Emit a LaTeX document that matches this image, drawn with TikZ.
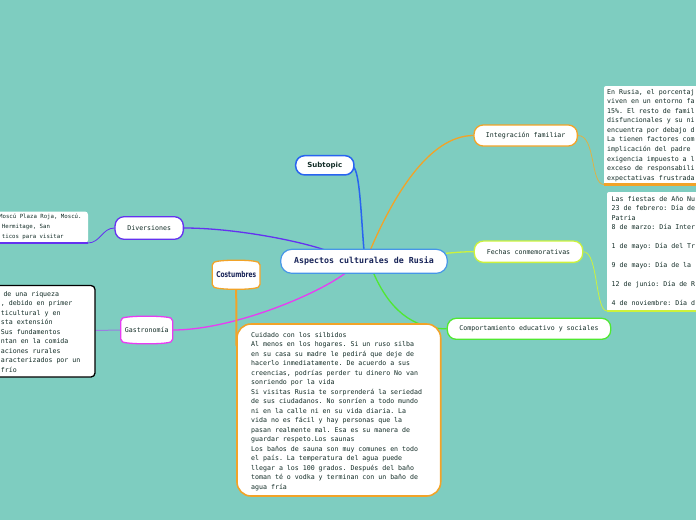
\documentclass[tikz,border=0pt]{standalone}
\usepackage{fontspec}
\usepackage{graphicx}
\setmonofont{DejaVu Sans Mono}
\newfontfamily\dejasans{DejaVu Sans}
\usetikzlibrary{calc}
\definecolor{bgteal}{RGB}{126,205,192}
\definecolor{orangec}{RGB}{242,163,40}
\definecolor{orangethin}{RGB}{222,178,70}
\definecolor{bluesub}{RGB}{40,100,240}
\definecolor{bluecen}{RGB}{70,150,232}
\definecolor{ygreen}{RGB}{205,242,60}
\definecolor{greenc}{RGB}{80,232,50}
\definecolor{purplec}{RGB}{100,50,240}
\definecolor{magentac}{RGB}{232,60,242}
\definecolor{lavender}{RGB}{155,125,225}
\definecolor{txtc}{RGB}{18,44,38}
\definecolor{navy}{RGB}{24,36,88}
\pgfdeclarelayer{back}
\pgfdeclarelayer{conn}
\pgfsetlayers{back,conn,main}
\begin{document}
\begin{tikzpicture}[x=1pt,y=-1pt,
  topic/.style={draw, fill=white, line width=1.3, rounded corners=9, inner sep=0,
    font=\ttfamily\fontsize{6.6}{8}\selectfont, text=txtc},
  bodytxt/.style={anchor=north west, inner sep=0, align=left, text=txtc,
    font=\ttfamily\fontsize{6.6}{9.5}\selectfont},
  conline/.style={line width=1.3},
  thinline/.style={line width=0.8}]
\useasboundingbox (0,0) rectangle (696,520);
\clip (0,0) rectangle (696,520);
\begin{pgfonlayer}{back}
\fill[bgteal] (0,0) rectangle (696,520);
\end{pgfonlayer}

% ---------- detail boxes ----------
% right box 1
\fill[white, rounded corners=2] (604,86) rectangle (704,184.5);
\draw[orangec, line width=3] (604,184.5) -- (704,184.5);
\coordinate (b1) at (604,184.5);
\node[bodytxt, font=\ttfamily\fontsize{6.6}{9.55}\selectfont] (b1txt) at (607,88) {\rule{0pt}{6pt}En Rusia, el porcentaj\\viven en un entorno fa\\15\%. El resto de famil\\disfuncionales y su ni\\encuentra por debajo d\\La tienen factores com\\implicación del padre\\exigencia impuesto a l\\exceso de responsabili\\expectativas frustrada};

% right box 2
\fill[white, rounded corners=2] (607,192) rectangle (704,311);
\draw[ygreen, line width=2.2] (607,311) -- (704,311);
\coordinate (b2) at (607,311);
\node[bodytxt, font=\ttfamily\fontsize{6.6}{9.45}\selectfont] (b2txt) at (611.5,195) {\rule{0pt}{6pt}Las fiestas de Año Nu\\23 de febrero: Día de\\Patria\\8 de marzo: Día Inter\\\mbox{}\\1 de mayo: Día del Tr\\\mbox{}\\9 de mayo: Día de la\\\mbox{}\\12 de junio: Día de R\\\mbox{}\\4 de noviembre: Día d};

% left box 1
\fill[white, rounded corners=3] (-10,211.5) rectangle (88,243);
\draw[purplec, line width=2] (-10,243) -- (88,243);
\coordinate (d1) at (88,243);
\node[bodytxt, font=\ttfamily\fontsize{5.7}{10.2}\selectfont] (d1txt) at (-1,212) {\rule{0pt}{6pt}Moscú Plaza Roja, Moscú.\\\hspace*{2.7pt}Hermitage, San\\\hspace*{2.7pt}ticos para visitar};

% left box 2
\draw[black, line width=1.3, fill=white, rounded corners=4] (-10,285.5) rectangle (95,377);
\coordinate (g1) at (95,330.5);
\node[bodytxt] (g1txt) at (0.7,290) {\rule{0pt}{6pt}\hspace*{2.6pt}de una riqueza\\, debido en primer\\ticultural y en\\sta extensión\\Sus fundamentos\\ntan en la comida\\aciones rurales\\aracterizados por un\\frío};

% big Costumbres box
\draw[orangec, line width=1.6, fill=white, rounded corners=14] (237,324) rectangle (440.7,496);
\coordinate (cb) at (236.5,346);
\node[bodytxt] (cbtxt) at (251,331) {\rule{0pt}{6pt}Cuidado con los silbidos\\Al menos en los hogares. Si un ruso silba\\en su casa su madre le pedirá que deje de\\hacerlo inmediatamente. De acuerdo a sus\\creencias, podrías perder tu dinero No van\\sonriendo por la vida\\Si visitas Rusia te sorprenderá la seriedad\\de sus ciudadanos. No sonríen a todo mundo\\ni en la calle ni en su vida diaria. La\\vida no es fácil y hay personas que la\\pasan realmente mal. Esa es su manera de\\guardar respeto.Los saunas\\Los baños de sauna son muy comunes en todo\\el país. La temperatura del agua puede\\llegar a los 100 grados. Después del baño\\toman té o vodka y terminan con un baño de\\agua fría};

% ---------- cylinder-like nodes ----------
\draw[orangec, line width=1.3, fill=white, rounded corners=2]
  (212.3,263) .. controls (220,259.5) and (252.3,259.5) .. (260,263) -- (260,286.5)
  .. controls (252.3,290) and (220,290) .. (212.3,286.5) -- cycle;
\node[inner sep=0, minimum width=47.7, minimum height=29.3, text=navy,
  font=\dejasans\bfseries\fontsize{8}{9}\selectfont] (cost) at (236.2,274.7) {\scalebox{0.74}[1]{Costumbres}};

\draw[magentac, line width=1.3, fill=white, rounded corners=2]
  (120.7,319) .. controls (128,315.5) and (165.4,315.5) .. (172.7,319) -- (172.7,341)
  .. controls (165.4,344.5) and (128,344.5) .. (120.7,341) -- cycle;
\node[inner sep=0, minimum width=52, minimum height=28, text=txtc,
  font=\ttfamily\fontsize{6.6}{8}\selectfont] (gast) at (146.7,330) {Gastronomía};

% ---------- topic nodes ----------
\node[topic, draw=bluecen, line width=1.2, rounded corners=11, minimum width=166.6, minimum height=24,
  text=navy, font=\ttfamily\bfseries\fontsize{8.3}{10}\selectfont] (c) at (364,261.3) {Aspectos culturales de Rusia};
\node[topic, draw=bluesub, line width=1.5, minimum width=58.3, minimum height=19.3,
  font=\dejasans\bfseries\fontsize{7}{8}\selectfont] (sub) at (324.8,165.3) {Subtopic};
\node[topic, draw=orangec, minimum width=103.3, minimum height=21] (integ) at (525.7,135.5) {Integración familiar};
\node[topic, draw=ygreen, minimum width=108.4, minimum height=21.3] (fech) at (528.5,251.7) {Fechas conmemorativas};
\node[topic, draw=greenc, minimum width=163.4, minimum height=21] (comp) at (529,328.8) {Comportamiento educativo y sociales};
\node[topic, draw=purplec, minimum width=68.3, minimum height=22.6] (div) at (149.2,228) {Diversiones};

% ---------- connectors ----------
\begin{pgfonlayer}{conn}
\draw[bluesub, line width=1.5] ($(sub.east)+(-1,2)$) .. controls ($(sub.east)+(5,8)$) and ($(c.north)+(-3,-35)$) .. ($(c.north)+(0,2)$);
\draw[orangec, conline] ($(c.north)+(6,2)$) .. controls ($(c.north)+(28,-50)$) and ($(integ.west)+(-45,0)$) .. (integ.west);
\draw[orangethin, thinline] (integ.east) .. controls ($(integ.east)+(18,0)$) and ($(b1)+(-14,0)$) .. (b1);
\draw[ygreen, conline] ($(c.east)+(-2,-8)$) .. controls ($(c.east)+(10,-9)$) and ($(fech.west)+(-10,0)$) .. (fech.west);
\draw[ygreen, thinline] (fech.east) .. controls ($(fech.east)+(15,0)$) and ($(b2)+(-12,0)$) .. (b2);
\draw[greenc, conline] ($(c.south)+(9,-2)$) .. controls ($(c.south)+(25,35)$) and ($(comp.west)+(-35,0)$) .. (comp.west);
\draw[purplec, conline] (div.east) .. controls ($(div.east)+(50,0)$) and ($(c.north west)+(20,-8)$) .. ($(c.north west)+(50,3)$);
\draw[purplec, thinline] (d1) .. controls ($(d1)+(12,0)$) and ($(div.west)+(-12,0)$) .. (div.west);
\draw[magentac, conline] (gast.east) .. controls ($(gast.east)+(60,0)$) and ($(c.south)+(-45,20)$) .. ($(c.south)+(-17,-2)$);
\draw[lavender, line width=1] (g1) -- (gast.west);
\draw[orangec, line width=2] (cost.south) -- (cb);
\end{pgfonlayer}
\end{tikzpicture}
\end{document}
